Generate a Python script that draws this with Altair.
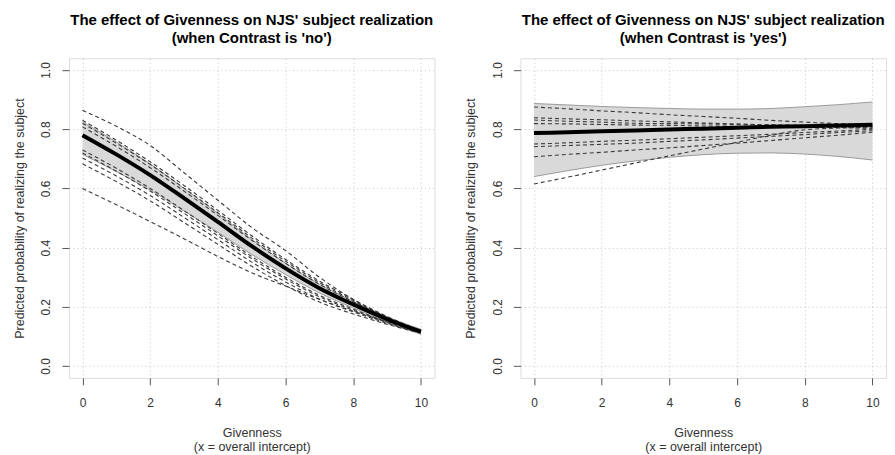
import altair as alt
import pandas as pd

GIVENNESS = [0, 1, 2, 3, 4, 5, 6, 7, 8, 9, 10]
X_TICKS = [0, 2, 4, 6, 8, 10]
Y_TICKS = [0.0, 0.2, 0.4, 0.6, 0.8, 1.0]

TITLE_LINE_1 = "The effect of Givenness on NJS' subject realization"
TITLE_NO = "(when Contrast is 'no')"
TITLE_YES = "(when Contrast is 'yes')"
Y_TITLE = "Predicted probability of realizing the subject"
X_TITLE = ["Givenness", "(x = overall intercept)"]

# Contrast = 'no'
NO_FIT = [0.78, 0.715, 0.645, 0.567, 0.487, 0.405, 0.33, 0.263, 0.208, 0.158, 0.116]
NO_CI_HIGH = [0.825, 0.757, 0.683, 0.60, 0.515, 0.427, 0.347, 0.276, 0.218, 0.166, 0.124]
NO_CI_LOW = [0.715, 0.657, 0.595, 0.524, 0.452, 0.377, 0.309, 0.247, 0.196, 0.148, 0.107]
NO_SPEAKERS = [
    [0.864, 0.81, 0.745, 0.653, 0.56, 0.468, 0.39, 0.30, 0.225, 0.165, 0.12],
    [0.83, 0.763, 0.69, 0.61, 0.526, 0.44, 0.36, 0.287, 0.225, 0.167, 0.119],
    [0.82, 0.753, 0.681, 0.601, 0.518, 0.433, 0.354, 0.282, 0.221, 0.165, 0.118],
    [0.808, 0.742, 0.67, 0.591, 0.509, 0.425, 0.347, 0.276, 0.217, 0.163, 0.117],
    [0.73, 0.668, 0.60, 0.525, 0.448, 0.37, 0.30, 0.239, 0.192, 0.149, 0.114],
    [0.72, 0.658, 0.591, 0.516, 0.44, 0.363, 0.294, 0.234, 0.188, 0.147, 0.113],
    [0.703, 0.642, 0.576, 0.502, 0.427, 0.351, 0.284, 0.226, 0.183, 0.144, 0.112],
    [0.683, 0.623, 0.558, 0.485, 0.411, 0.337, 0.272, 0.216, 0.176, 0.141, 0.111],
    [0.60, 0.545, 0.488, 0.43, 0.37, 0.315, 0.27, 0.225, 0.185, 0.15, 0.12],
]

# Contrast = 'yes'
YES_FIT = [0.787, 0.79, 0.793, 0.796, 0.799, 0.802, 0.805, 0.808, 0.81, 0.813, 0.815]
YES_CI_HIGH = [0.887, 0.882, 0.877, 0.873, 0.870, 0.868, 0.868, 0.870, 0.876, 0.883, 0.892]
YES_CI_LOW = [0.64, 0.66, 0.678, 0.693, 0.705, 0.714, 0.719, 0.72, 0.716, 0.708, 0.696]
YES_SPEAKERS = [
    [0.875, 0.869, 0.862, 0.856, 0.849, 0.843, 0.837, 0.83, 0.824, 0.819, 0.815],
    [0.839, 0.835, 0.832, 0.828, 0.825, 0.821, 0.818, 0.814, 0.81, 0.806, 0.803],
    [0.831, 0.827, 0.824, 0.82, 0.819, 0.818, 0.816, 0.815, 0.813, 0.812, 0.81],
    [0.819, 0.818, 0.816, 0.814, 0.813, 0.811, 0.81, 0.808, 0.807, 0.806, 0.805],
    [0.75, 0.754, 0.759, 0.763, 0.768, 0.773, 0.778, 0.783, 0.789, 0.794, 0.80],
    [0.741, 0.745, 0.749, 0.753, 0.759, 0.764, 0.77, 0.776, 0.782, 0.789, 0.795],
    [0.707, 0.715, 0.722, 0.73, 0.737, 0.745, 0.753, 0.762, 0.771, 0.78, 0.79],
    [0.615, 0.638, 0.662, 0.686, 0.71, 0.733, 0.756, 0.78, 0.798, 0.804, 0.808],
]

FONT = "Liberation Sans"


def x_enc():
    return alt.X(
        "x:Q",
        scale=alt.Scale(domain=[-0.4, 10.4], nice=False, zero=False),
        axis=alt.Axis(
            values=X_TICKS, format="d", title=X_TITLE,
            domain=False, tickSize=7, tickColor="#555555",
            labelFontSize=12, labelPadding=13, labelColor="#333333",
            titleFontSize=12.5, titleFontWeight="normal", titleColor="#333333",
            titlePadding=18, titleLineHeight=14,
            grid=True, gridDash=[1, 3], gridColor="#c4c4c4",
            labelFont=FONT, titleFont=FONT,
        ),
    )


def y_enc(field):
    return alt.Y(
        f"{field}:Q",
        scale=alt.Scale(domain=[-0.04, 1.04], nice=False, zero=False),
        axis=alt.Axis(
            values=Y_TICKS, format=".1f", title=Y_TITLE,
            domain=False, tickSize=7, tickColor="#555555",
            labelAngle=270, labelAlign="center", labelBaseline="bottom",
            labelFontSize=12, labelPadding=9, labelColor="#333333",
            titleFontSize=12.5, titleFontWeight="normal", titleColor="#333333",
            titlePadding=13.5,
            grid=True, gridDash=[1, 3], gridColor="#c4c4c4",
            labelFont=FONT, titleFont=FONT,
        ),
    )


def panel(fit, lo, hi, speakers, subtitle):
    band_df = pd.DataFrame({"x": GIVENNESS, "p": lo, "p2": hi})
    edges_rows = []
    for name, vals in (("low", lo), ("high", hi)):
        for xv, pv in zip(GIVENNESS, vals):
            edges_rows.append({"x": xv, "p": pv, "id": name})
    edges_df = pd.DataFrame(edges_rows)
    spk_rows = []
    for i, vals in enumerate(speakers):
        for xv, pv in zip(GIVENNESS, vals):
            spk_rows.append({"x": xv, "p": pv, "id": f"s{i}"})
    spk_df = pd.DataFrame(spk_rows)
    fit_df = pd.DataFrame({"x": GIVENNESS, "p": fit})

    area = alt.Chart(band_df).mark_area(color="#d9d9d9", opacity=1, interpolate="monotone").encode(
        x=x_enc(), y=y_enc("p"), y2="p2:Q"
    )
    edges = alt.Chart(edges_df).mark_line(color="#9a9a9a", strokeWidth=1, interpolate="monotone").encode(
        x=x_enc(), y=y_enc("p"), detail="id:N"
    )
    dashed = alt.Chart(spk_df).mark_line(
        color="#3a3a3a", strokeWidth=1.1, strokeDash=[4, 3], interpolate="monotone"
    ).encode(x=x_enc(), y=y_enc("p"), detail="id:N")
    main = alt.Chart(fit_df).mark_line(color="black", strokeWidth=4, interpolate="monotone").encode(
        x=x_enc(), y=y_enc("p")
    )
    return alt.layer(area, edges, dashed, main).properties(
        width=366,
        height=320,
        title=alt.TitleParams(
            text=[TITLE_LINE_1, subtitle], fontSize=15, fontWeight="bold", font=FONT,
            anchor="middle", frame="group", lineHeight=18, offset=12, color="black",
        ),
    )


left = panel(NO_FIT, NO_CI_LOW, NO_CI_HIGH, NO_SPEAKERS, TITLE_NO)
right = panel(YES_FIT, YES_CI_LOW, YES_CI_HIGH, YES_SPEAKERS, TITLE_YES)

chart = alt.hconcat(left, right, spacing=28).properties(
    padding={"left": 4, "right": 0, "top": 4, "bottom": 0}
).configure_view(
    stroke="#555555", strokeWidth=1
).configure(font=FONT, background="white")

chart.save("out.html", embed_options={"renderer": "svg", "actions": False})
